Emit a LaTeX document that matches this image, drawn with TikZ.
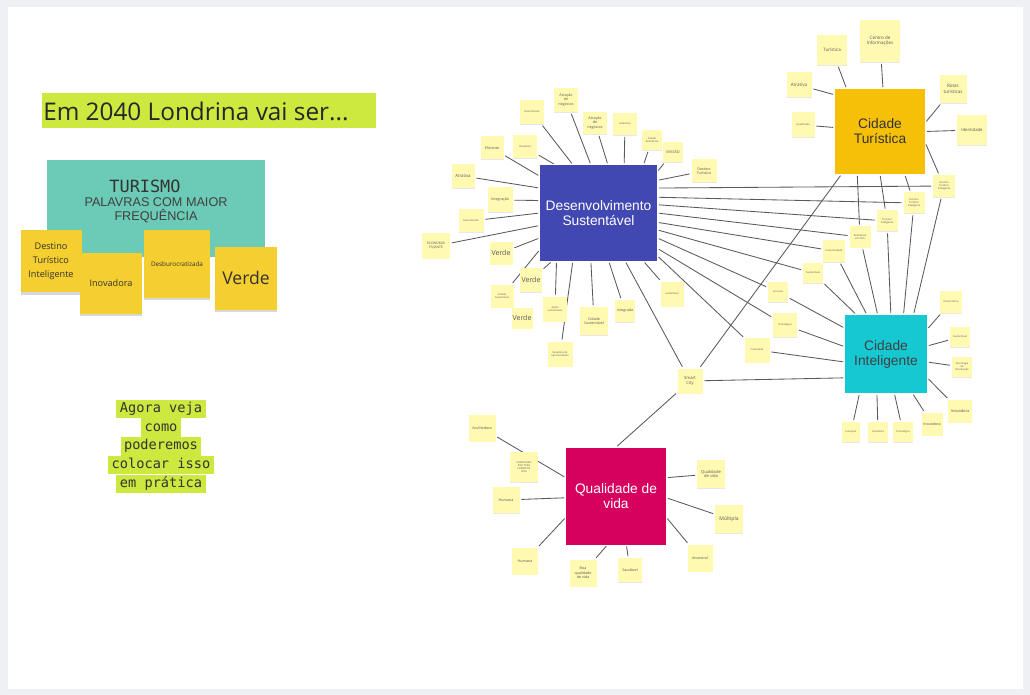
\documentclass[tikz,border=0pt]{standalone}
\usepackage{fontspec}
\setmainfont{Open Sans}
\newfontfamily\arialfont{Liberation Sans}
\newfontfamily\codefont{DejaVu Sans Mono}
\usetikzlibrary{shadows,backgrounds}

\definecolor{pagegray}{RGB}{238,240,243}
\definecolor{hlgreen}{RGB}{205,232,62}
\definecolor{tealbox}{RGB}{108,203,182}
\definecolor{stickyy}{RGB}{245,206,48}
\definecolor{notey}{RGB}{255,249,177}
\definecolor{dsblue}{RGB}{66,72,178}
\definecolor{ctgold}{RGB}{247,192,8}
\definecolor{cicyan}{RGB}{22,200,210}
\definecolor{qvpink}{RGB}{214,0,95}

\newlength\px
\setlength\px{0.025cm}
\newcommand\notefont{\fontsize{2.6}{3.1}\selectfont}
\newcommand\tinynote{\fontsize{1.8}{2.2}\selectfont}
\newcommand\bignote{\fontsize{5}{6}\selectfont}
\newcommand\hubfont{\arialfont\fontsize{9.8}{10.7}\selectfont}

\tikzset{
  note/.style={fill=notey, text=black!65, minimum width=24\px, minimum height=24\px,
    inner sep=0.4pt, align=center, font=\notefont,
    drop shadow={shadow xshift=0pt, shadow yshift=-0.7pt, opacity=0.18}},
  sq/.style={minimum width=#1\px, minimum height=#1\px},
  sticky/.style={fill=stickyy, text=black!80, align=center, inner sep=1pt,
    drop shadow={shadow xshift=0pt, shadow yshift=-1.8pt, opacity=0.3}},
  hub/.style={align=center, font=\hubfont, inner sep=0pt},
  link/.style={draw=black!65, line width=0.6pt, shorten <=1.2pt, shorten >=1.2pt},
  hlline/.style={fill=hlgreen, text=black!80, font=\codefont\fontsize{9.7}{11}\selectfont,
    inner xsep=2.5pt, inner ysep=1.5pt, text height=7.5pt, text depth=2.5pt},
}

\begin{document}
\begin{tikzpicture}[x=0.025cm, y=-0.025cm]
\useasboundingbox (0,0) rectangle (1030,695);
\begin{scope}[on background layer]
\fill[pagegray] (0,0) rectangle (1030,695);
\fill[white] (8,7) rectangle (1023,689);
\end{scope}

% Title
\fill[hlgreen] (42,93) rectangle (376,128);
\node[anchor=west, inner sep=0pt, text=black!85, font=\fontsize{17.3}{20}\selectfont] (title) at (43,111) {Em 2040 Londrina vai ser...};

% Turismo panel
\fill[tealbox] (47,160) rectangle (265,257);
\node[anchor=base, inner sep=0pt, text=black!80, font=\codefont\fontsize{12}{13}\selectfont] (tur) at (145,193) {TURISMO};
\node[text=black!75, align=center, font=\arialfont\fontsize{9}{10}\selectfont] (freq) at (156,210) {PALAVRAS COM MAIOR\\FREQUÊNCIA};
\node[sticky, minimum width=61\px, minimum height=62\px, font=\fontsize{6.5}{10}\selectfont] (wdti) at (51,261) {Destino\\Turístico\\Inteligente};
\node[sticky, minimum width=62\px, minimum height=61\px, font=\fontsize{6.5}{8}\selectfont] (winov) at (111,283) {Inovadora};
\node[sticky, minimum width=66\px, minimum height=67\px, font=\fontsize{4.5}{5}\selectfont] (wdesb) at (177,264) {Desburocratizada};
\node[sticky, minimum width=62\px, minimum height=63\px, font=\fontsize{12.5}{14}\selectfont] (wverde) at (246,278) {Verde};

% Call to action
\foreach \txt [count=\i] in {Agora veja, como, poderemos, colocar isso, em prática}
  \node[hlline] (cta\i) at (161,390+18.8*\i) {\txt};

% Hubs
\node[hub, fill=dsblue, text=white, minimum width=117\px, minimum height=96\px] (dsv) at (598.5,213) {Desenvolvimento\\Sustentável};
\node[hub, fill=ctgold, text=black!80, minimum width=90\px, minimum height=85\px] (ct) at (880,131.5) {Cidade\\Turística};
\node[hub, fill=cicyan, text=black!75, minimum width=82\px, minimum height=78\px] (ci) at (886,354) {Cidade\\Inteligente};
\node[hub, fill=qvpink, text=white, minimum width=100\px, minimum height=97\px] (qv) at (616,496) {Qualidade de\\vida};

% Desenvolvimento Sustentavel notes
\node[note, font=\tinynote] (ds1) at (532,112) {Diversificada};
\node[note] (ds2) at (566,100) {Atração\\de\\negócios};
\node[note, minimum height=22\px] (ds3) at (595,123) {Atração\\de\\negócios};
\node[note, minimum height=22\px, font=\tinynote] (ds4) at (625,124) {Liderança};
\node[note, sq=20, font=\tinynote] (ds5) at (652,140) {Cidade\\Referência};
\node[note, sq=20] (ds6) at (673,152) {MISSÃO};
\node[note, minimum width=25\px, minimum height=23\px] (ds7) at (704,171) {Destino\\Turístico};
\node[note, minimum height=23\px, font=\tinynote] (ds8) at (525,147) {Inovadora};
\node[note, sq=23] (ds9) at (492,148) {Eficiente};
\node[note, minimum width=23\px, font=\fontsize{3}{3.6}\selectfont] (ds10) at (463,176) {Atrativa};
\node[note, sq=25] (ds11) at (500,200) {Integração};
\node[note, minimum width=25\px, minimum height=23\px, font=\tinynote] (ds12) at (471,221) {Reconhecida};
\node[note, minimum width=28\px, minimum height=25\px, font=\fontsize{2.4}{2.9}\selectfont] (ds13) at (436,246) {ECONOMIA\\PUJANTE};
\node[note, sq=23, font=\bignote] (ds14) at (501,253) {Verde};
\node[note, sq=23, font=\tinynote] (ds15) at (502,296) {Cidade\\Sustentável};
\node[note, minimum width=22\px, font=\bignote] (ds16) at (531,280) {Verde};
\node[note, sq=21, font=\bignote] (ds17) at (522,318) {Verde};
\node[note, minimum height=25\px, font=\tinynote] (ds18) at (555,309) {Ações\\sustentáveis};
\node[note, sq=25, font=\tinynote] (ds19) at (560,354) {Geradora de\\oportunidades};
\node[note, sq=28] (ds20) at (594,321) {Cidade\\Sustentável};
\node[note, minimum width=20\px, minimum height=22\px] (ds21) at (625,311) {Integrada};
\node[note, minimum width=23\px, minimum height=25\px, font=\tinynote] (ds22) at (672,294) {sustentável};
\node[note, sq=25, font=\fontsize{3}{3.5}\selectfont] (smart) at (690,381) {Smart\\City};

% Shared notes between hubs
\node[note, sq=22, font=\tinynote] (dti1) at (944,186) {Destino\\Turístico\\Inteligente};
\node[note, sq=21, font=\tinynote] (dti2) at (914,203) {Destino\\Turístico\\Inteligente};
\node[note, sq=21, font=\tinynote] (ti) at (887,221) {Turismo\\Inteligente};
\node[note, sq=21, font=\tinynote] (ref) at (860,237) {Referência\\em ODS};
\node[note, sq=22, font=\tinynote] (con) at (834,251) {Conectividade};
\node[note, sq=20, font=\tinynote] (sus) at (813,273) {Sustentável};
\node[note, sq=20, font=\tinynote] (inc) at (778,292) {Inclusiva};
\node[note, sq=24, font=\tinynote] (tec) at (785,325) {Tecnológica};
\node[note, sq=25, font=\tinynote] (cnt) at (757,350) {Conectada};

% Cidade Turistica notes
\node[note, sq=30, font=\fontsize{3.2}{3.8}\selectfont] (ct1) at (832,50) {Turística};
\node[note, minimum width=40\px, minimum height=42\px, font=\fontsize{3.2}{4}\selectfont] (ct2) at (880,41) {Centro de\\Informações};
\node[note, sq=25, font=\fontsize{3.2}{3.8}\selectfont] (ct3) at (799,85) {Atrativa};
\node[note, minimum width=23\px, minimum height=25\px, font=\tinynote] (ct4) at (803,125) {Qualificada};
\node[note, minimum width=27\px, minimum height=28\px, font=\fontsize{3.2}{4}\selectfont] (ct5) at (953,89) {Rotas\\turísticas};
\node[note, sq=30, font=\fontsize{3}{3.6}\selectfont] (ct6) at (972,130) {Identidade};

% Cidade Inteligente notes
\node[note, sq=22, font=\tinynote] (ci1) at (951,302) {Democrática};
\node[note, sq=20, font=\tinynote] (ci2) at (960,337) {Sustentável};
\node[note, sq=20, font=\tinynote] (ci3) at (962,367) {Tecnologia\\da\\informação};
\node[note, minimum height=23\px, font=\fontsize{2.8}{3.3}\selectfont] (ci4) at (960,411) {Inovadora};
\node[note, minimum width=18\px, minimum height=20\px, font=\tinynote] (ci5) at (851,432) {Inovação};
\node[note, sq=20, font=\tinynote] (ci6) at (878,432) {Inovadora};
\node[note, sq=20, font=\tinynote] (ci7) at (903,432) {Tecnológica};
\node[note, minimum width=21\px, minimum height=23\px] (ci8) at (932,424) {Inovadora};

% Qualidade de vida notes
\node[note, sq=27] (qv1) at (482,428) {Acolhedora};
\node[note, minimum width=28\px, minimum height=30\px, font=\tinynote] (qv2) at (524,467) {HARMONIAS\\POR TODA\\FORMA DE\\VIDA};
\node[note, minimum width=27\px, minimum height=26\px] (qv3) at (506,500) {Humana};
\node[note, minimum width=26\px, minimum height=27\px] (qv4) at (525,561) {Humana};
\node[note, sq=27] (qv5) at (583,573) {Boa\\qualidade\\de vida};
\node[note, sq=24] (qv6) at (630,570) {Saudável};
\node[note, sq=28, font=\fontsize{2.9}{3.5}\selectfont] (qv7) at (711,474) {Qualidade\\de vida};
\node[note, sq=28, font=\fontsize{3.6}{4.2}\selectfont] (qv8) at (729,519) {Múltipla};
\node[note, minimum width=25\px, minimum height=27\px] (qv9) at (700,558) {Ancestral};

% Connectors
\begin{scope}[on background layer]
\draw[link] (dsv.118) -- (ds1);  \draw[link] (dsv.99) -- (ds2);
\draw[link] (dsv.79) -- (ds3);   \draw[link] (dsv.62) -- (ds4);
\draw[link] (dsv.47) -- (ds5);   \draw[link] (dsv.35) -- (ds6);
\draw[link] (dsv.29) -- (ds7);   \draw[link] (dsv.132) -- (ds8);
\draw[link] (dsv.148) -- (ds9);  \draw[link] (dsv.157) -- (ds10);
\draw[link] (dsv.168) -- (ds11); \draw[link] (dsv.180) -- (ds12);
\draw[link] (dsv.-168) -- (ds13); \draw[link] (dsv.-157) -- (ds14);
\draw[link] (dsv.-148) -- (ds15); \draw[link] (dsv.-134) -- (ds16);
\draw[link] (dsv.-131) -- (ds18); \draw[link] (dsv.-118) -- (ds19);
\draw[link] (dsv.-99) -- (ds20);  \draw[link] (dsv.-78) -- (ds21);
\draw[link] (dsv.-47) -- (ds22);  \draw[link] (dsv.-61) -- (smart);
\draw[link] (dsv.23) -- (dti1);  \draw[link] (dsv.15) -- (dti2);
\draw[link] (dsv.8) -- (ti);     \draw[link] (dsv.0) -- (ref);
\draw[link] (dsv.-9) -- (con);   \draw[link] (dsv.-16) -- (sus);
\draw[link] (dsv.-23) -- (inc);  \draw[link] (dsv.-31) -- (tec);
\draw[link] (dsv.-36) -- (cnt);

\draw[link] (ct.128) -- (ct1);   \draw[link] (ct.86) -- (ct2);
\draw[link] (ct.141) -- (ct3);   \draw[link] (ct.175) -- (ct4);
\draw[link] (ct.11) -- (ct5);    \draw[link] (ct.0) -- (ct6);
\draw[link] (ct.-14) -- (dti1);  \draw[link] (ct.-60) -- (dti2);
\draw[link] (ct.-90) -- (ti);    \draw[link] (ct.-118) -- (ref);
\draw[link] (ct.-132) -- (smart);

\draw[link] (ci.55) -- (dti1);   \draw[link] (ci.66) -- (dti2);
\draw[link] (ci.83) -- (ti);     \draw[link] (ci.102) -- (ref);
\draw[link] (ci.116) -- (con);   \draw[link] (ci.127) -- (sus);
\draw[link] (ci.148) -- (inc);   \draw[link] (ci.170) -- (tec);
\draw[link] (ci.-169) -- (cnt);  \draw[link] (ci.-150) -- (smart);
\draw[link] (ci.31) -- (ci1);    \draw[link] (ci.11) -- (ci2);
\draw[link] (ci.-11) -- (ci3);   \draw[link] (ci.-30) -- (ci4);
\draw[link] (ci.-124) -- (ci5);  \draw[link] (ci.-103) -- (ci6);
\draw[link] (ci.-78) -- (ci7);   \draw[link] (ci.-56) -- (ci8);

\draw[link] (qv.160) -- (qv1);   \draw[link] (qv.-178) -- (qv3);
\draw[link] (qv.-157) -- (qv4);  \draw[link] (qv.-100) -- (qv5);
\draw[link] (qv.-78) -- (qv6);   \draw[link] (qv.20) -- (qv7);
\draw[link] (qv.-2) -- (qv8);    \draw[link] (qv.-23) -- (qv9);
\draw[link] (qv.90) -- (smart);
\end{scope}
\end{tikzpicture}
\end{document}
